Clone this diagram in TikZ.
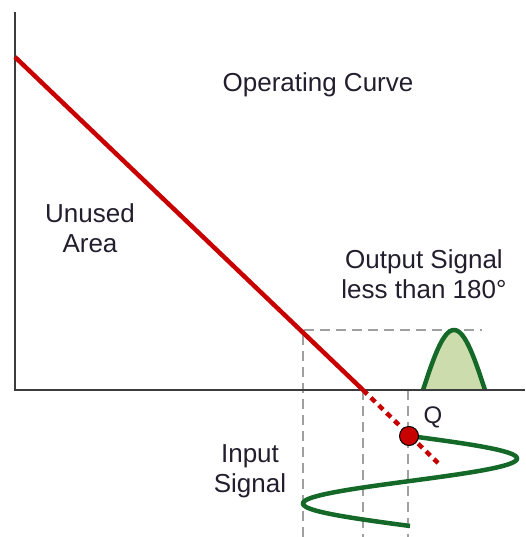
\documentclass[tikz,border=0pt]{standalone}
\usepackage{fontspec}
\setmainfont{Liberation Sans}
\definecolor{redline}{RGB}{200,0,0}
\definecolor{greenline}{RGB}{20,105,40}
\definecolor{greenfill}{RGB}{205,220,172}
\definecolor{guidegray}{RGB}{160,160,160}
\definecolor{axisgray}{RGB}{60,60,60}
\definecolor{txt}{RGB}{35,30,45}
\begin{document}
\begin{tikzpicture}[x=1pt,y=-1pt,
  axis/.style={draw=axisgray,line width=1.6pt},
  guide/.style={draw=guidegray,line width=1.8pt,dash pattern=on 10pt off 6pt},
  curve/.style={draw=redline,line width=4.5pt},
  sig/.style={draw=greenline,line width=4.5pt},
  lbl/.style={font=\fontsize{26}{30}\selectfont,text=txt,align=center,inner sep=0pt}]
\useasboundingbox (0,0) rectangle (525,537);
% coordinates
\coordinate (ytop) at (15,12);
\coordinate (o) at (15,390);
\coordinate (xend) at (525,390);
\coordinate (cstart) at (15,57);
\coordinate (cx) at (363,390);
\coordinate (cend) at (438,463);
\coordinate (g1) at (303,330);
\coordinate (g1b) at (303,537);
\coordinate (g1r) at (482,330);
\coordinate (g2b) at (363,537);
\coordinate (g3t) at (408,390);
\coordinate (g3b) at (408,537);
% guides
\draw[guide] (g1b) -- (g1) -- (g1r);
\draw[guide] (cx) -- (g2b);
\draw[guide] (g3t) -- (g3b);
% output pulse
\path[fill=greenfill] plot[domain=423:485,samples=50] (\x,{390-60*sin(180*(\x-423)/62)}) -- cycle;
\draw[sig] plot[domain=423:485,samples=50] (\x,{390-60*sin(180*(\x-423)/62)});
% axes
\draw[axis] (ytop) -- (o) -- (xend);
% operating curve
\draw[curve] (cstart) -- (cx);
\draw[curve,dash pattern=on 6pt off 5pt] (cx) -- (cend);
% input signal
\draw[sig] plot[domain=436:526,samples=120,variable=\t] ({410+107*sin(4*(\t-436))},\t);
% Q point
\node[circle,fill=redline,draw=black,line width=1pt,minimum size=19pt,inner sep=0pt] (q) at (409,436) {};
\node[lbl,anchor=base,font=\fontsize{24}{28}\selectfont] (qlbl) at (433,423) {Q};
% labels
\node[lbl,anchor=base] (op) at (318,92) {Operating Curve};
\node[lbl,anchor=base] (un) at (90,252) {Unused\\Area};
\node[lbl,anchor=base] (out) at (424,298) {Output Signal\\less than 180°};
\node[lbl,anchor=base] (in) at (250,492) {Input\\Signal};
\end{tikzpicture}
\end{document}
